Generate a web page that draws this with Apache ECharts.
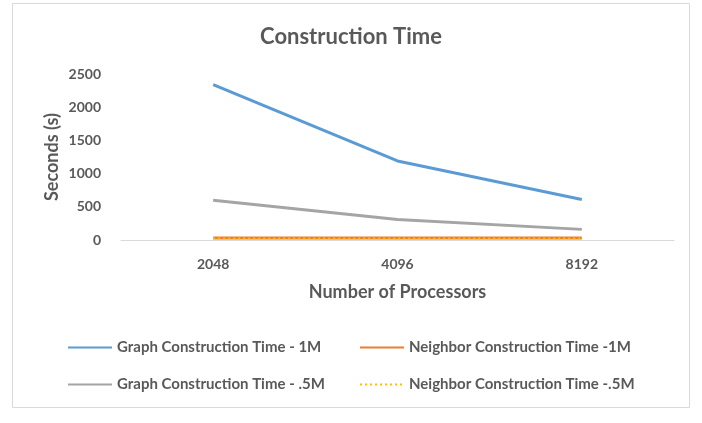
<!DOCTYPE html>
<html>
<head>
<meta charset="utf-8">
<script src="https://cdn.jsdelivr.net/npm/echarts@6/dist/echarts.min.js"></script>
<style>
  html, body { margin: 0; padding: 0; background: #fff; }
  #chart { width: 702px; height: 423px; }
</style>
</head>
<body>
<div id="chart"></div>
<script>
// processors on the x axis
const processors = ['2048', '4096', '8192']
// seconds
const graph1M = [2340, 1190, 610]
const neighbor1M = [30, 30, 30]
const graphHalfM = [600, 310, 160]
const neighborHalfM = [22, 22, 22]

const textColor = '#595959'
const font = 'Lato, "Open Sans", sans-serif'

let chart = echarts.init(document.getElementById('chart'))

const legendBase = {
  orient: 'vertical',
  top: 335,
  itemWidth: 44,
  itemHeight: 14,
  itemGap: 22,
  itemStyle: { opacity: 0 },
  textStyle: { color: textColor, fontSize: 15, fontWeight: 'bold', fontFamily: font }
}

let options = {
  animation: false,
  textStyle: { fontFamily: font },
  title: {
    text: 'Construction Time',
    left: 'center',
    top: 21,
    textStyle: { color: textColor, fontSize: 22, fontWeight: 'bold', fontFamily: font }
  },
  graphic: [{
    type: 'rect',
    shape: { x: 12.5, y: 3.5, width: 677, height: 404 },
    style: { fill: 'none', stroke: '#d9d9d9', lineWidth: 1 }
  }],
  legend: [
    Object.assign({}, legendBase, {
      left: 62,
      data: ['Graph Construction Time - 1M', 'Graph Construction Time - .5M']
    }),
    Object.assign({}, legendBase, {
      left: 354,
      data: ['Neighbor Construction Time -1M', 'Neighbor Construction Time -.5M']
    })
  ],
  grid: { left: 121, right: 28, top: 74, bottom: 183 },
  xAxis: {
    type: 'category',
    data: processors,
    boundaryGap: true,
    name: 'Number of Processors',
    nameLocation: 'middle',
    nameGap: 43,
    nameTextStyle: { color: textColor, fontSize: 18, fontWeight: 'bold' },
    axisLine: { lineStyle: { color: '#d9d9d9' } },
    axisTick: { show: false },
    axisLabel: { color: textColor, fontSize: 14, fontWeight: 'bold', margin: 17 }
  },
  yAxis: {
    type: 'value',
    min: 0,
    max: 2500,
    interval: 500,
    name: 'Seconds (s)',
    nameLocation: 'middle',
    nameGap: 60,
    nameMoveOverlap: false,
    nameTextStyle: { color: textColor, fontSize: 18, fontWeight: 'bold' },
    axisLine: { show: false },
    axisTick: { show: false },
    splitLine: { show: false },
    axisLabel: {
      color: textColor, fontSize: 14, fontWeight: 'bold', margin: 20,
      formatter: v => String(v)
    }
  },
  series: [
    {
      name: 'Graph Construction Time - 1M',
      type: 'line',
      data: graph1M,
      symbol: 'none',
      color: '#5b9bd5',
      lineStyle: { width: 3, color: '#5b9bd5' }
    },
    {
      name: 'Neighbor Construction Time -1M',
      type: 'line',
      data: neighbor1M,
      symbol: 'none',
      color: '#ed7d31',
      lineStyle: { width: 3, color: '#ed7d31' }
    },
    {
      name: 'Graph Construction Time - .5M',
      type: 'line',
      data: graphHalfM,
      symbol: 'none',
      color: '#a5a5a5',
      lineStyle: { width: 3, color: '#a5a5a5' }
    },
    {
      name: 'Neighbor Construction Time -.5M',
      type: 'line',
      data: neighborHalfM,
      symbol: 'none',
      color: '#ffc000',
      lineStyle: { width: 2, color: '#ffc000', type: [2, 3] }
    }
  ]
}

chart.setOption(options)
</script>
</body>
</html>
